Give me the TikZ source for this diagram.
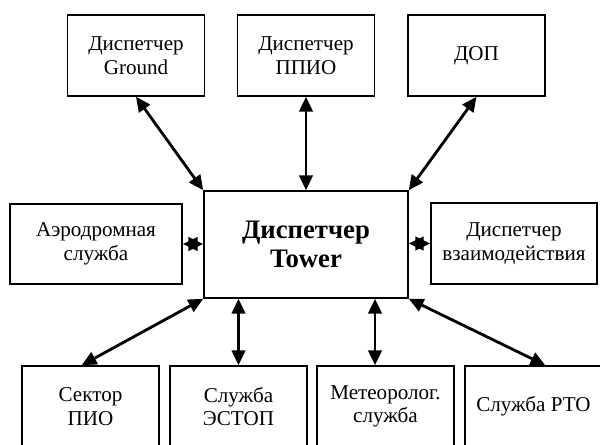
\documentclass[tikz,border=0pt]{standalone}
\usepackage{fontspec}
\setmainfont{Liberation Serif}
\usetikzlibrary{arrows.meta}
\begin{document}
\begin{tikzpicture}[
    box/.style={draw,line width=1.1pt,minimum width=3.425cm,minimum height=2.025cm,
        align=center,inner sep=0pt,font=\fontsize{15}{16.8}\selectfont},
    link/.style={line width=2pt,{Triangle[length=10.5pt,width=9.5pt]}-{Triangle[length=10.5pt,width=9.5pt]}}]
            \useasboundingbox(0,0)rectangle(15,11.1);
            \clip(0,0)rectangle(15,11.1);
            \node[box](ground)at(3.4,9.7125){Диспетчер\\Ground};
            \node[box](ppio)at(7.65,9.7125){Диспетчер\\ППИО};
            \node[box](dop)at(11.9125,9.7125){ДОП};
            \node[box,minimum width=5.1cm,minimum height=2.675cm,
                font=\fontsize{19}{20.5}\selectfont\bfseries](tower)at(7.65,4.9875){Диспетчер\\Tower};
            \node[box,minimum width=4.3cm,minimum height=2cm](aero)at(2.4,5){Аэродромная\\служба};
            \node[box,minimum width=4.15cm](vzaim)at(12.85,5.0125){Диспетчер\\взаимодействия};
            \node[box](sector)at(2.2625,0.9375){Сектор\\ПИО};
            \node[box](estop)at(5.9625,0.9375){Служба\\ЭСТОП};
            \node[box](meteo)at(9.6375,0.9375){Метеоролог.\\служба};
            \node[box](rto)at(13.3375,0.9375){Служба РТО};
            \draw[link](ground.south)--(tower.north west);
            \draw[link](ppio.south)--(tower.north);
            \draw[link](dop.south)--(tower.north east);
            \draw[link](aero.east)--(aero.east-|tower.west);
            \draw[link](vzaim.west)--(vzaim.west-|tower.east);
            \draw[link](tower.south west)--(sector.102);
            \draw[link](estop.north|-tower.south)--(estop.north);
            \draw[link]([xshift=-0.2625cm]meteo.north|-tower.south)--([xshift=-0.2625cm]meteo.north);
            \draw[link](tower.south east)--(rto.74);
        \end{tikzpicture}
\end{document}
